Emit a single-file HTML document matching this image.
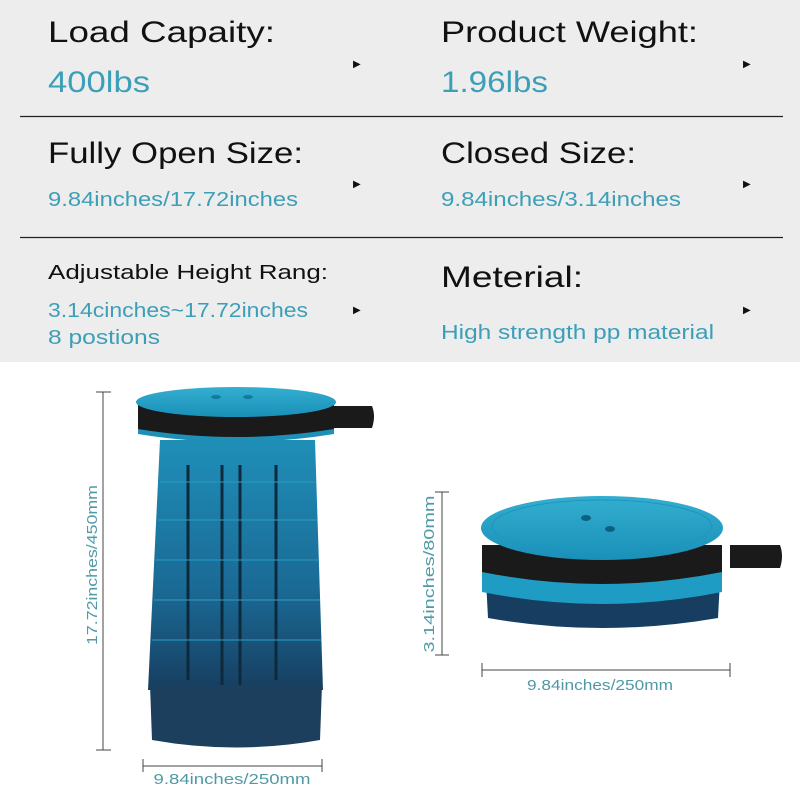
<!DOCTYPE html>
<html><head><meta charset="utf-8"><style>
body{margin:0;width:800px;height:788px;background:#fff;overflow:hidden;font-family:"Liberation Sans",sans-serif}
svg{display:block}
</style></head><body>
<svg width="800" height="788" viewBox="0 0 800 788" xmlns="http://www.w3.org/2000/svg">
<defs>
<linearGradient id="body" x1="0" y1="0" x2="0" y2="1">
<stop offset="0" stop-color="#1f8fb8"/><stop offset="0.6" stop-color="#1a6a95"/><stop offset="1" stop-color="#173e60"/>
</linearGradient>
<linearGradient id="lid" x1="0" y1="0" x2="0" y2="1">
<stop offset="0" stop-color="#33aed0"/><stop offset="1" stop-color="#1a90b8"/>
</linearGradient>
</defs>
<rect x="0" y="0" width="800" height="362" fill="#ededed"/>
<line x1="20" y1="116.5" x2="783" y2="116.5" stroke="#222" stroke-width="1.3"/>
<line x1="20" y1="237.5" x2="783" y2="237.5" stroke="#222" stroke-width="1.3"/>
<g font-family="Liberation Sans, sans-serif" lengthAdjust="spacingAndGlyphs">
<text x="48" y="42" font-size="30" fill="#111" textLength="227" lengthAdjust="spacingAndGlyphs">Load Capaity:</text>
<text x="48" y="92" font-size="30" fill="#3c9fb8" textLength="102" lengthAdjust="spacingAndGlyphs">400lbs</text>
<text x="441" y="42" font-size="30" fill="#111" textLength="257" lengthAdjust="spacingAndGlyphs">Product Weight:</text>
<text x="441" y="92" font-size="30" fill="#3c9fb8" textLength="107" lengthAdjust="spacingAndGlyphs">1.96lbs</text>
<text x="48" y="163" font-size="30" fill="#111" textLength="255" lengthAdjust="spacingAndGlyphs">Fully Open Size:</text>
<text x="48" y="206" font-size="20" fill="#3c9fb8" textLength="250" lengthAdjust="spacingAndGlyphs">9.84inches/17.72inches</text>
<text x="441" y="163" font-size="30" fill="#111" textLength="195" lengthAdjust="spacingAndGlyphs">Closed Size:</text>
<text x="441" y="206" font-size="20" fill="#3c9fb8" textLength="240" lengthAdjust="spacingAndGlyphs">9.84inches/3.14inches</text>
<text x="48" y="279" font-size="20" fill="#111" textLength="280" lengthAdjust="spacingAndGlyphs">Adjustable Height Rang:</text>
<text x="48" y="317" font-size="20" fill="#3c9fb8" textLength="260" lengthAdjust="spacingAndGlyphs">3.14cinches~17.72inches</text>
<text x="48" y="344" font-size="20" fill="#3c9fb8" textLength="112" lengthAdjust="spacingAndGlyphs">8 postions</text>
<text x="441" y="287" font-size="30" fill="#111" textLength="142" lengthAdjust="spacingAndGlyphs">Meterial:</text>
<text x="441" y="339" font-size="20" fill="#3c9fb8" textLength="273" lengthAdjust="spacingAndGlyphs">High strength pp material</text>
<g fill="#111" font-size="10">
<text x="353" y="67">▶</text><text x="743" y="67">▶</text>
<text x="353" y="187">▶</text><text x="743" y="187">▶</text>
<text x="353" y="313">▶</text><text x="743" y="313">▶</text>
</g>
</g>
<!-- tall stool -->
<path d="M160 440 L315 440 L323 690 L148 690 Z" fill="url(#body)"/>
<g stroke="#0d2a3d" stroke-width="3">
<line x1="188" y1="465" x2="188" y2="680"/><line x1="222" y1="465" x2="222" y2="690"/><line x1="240" y1="465" x2="240" y2="690"/><line x1="276" y1="465" x2="276" y2="680"/>
</g>
<g stroke="#2a9bc2" stroke-width="1.5" fill="none" opacity="0.7">
<path d="M160 482 L315 482"/><path d="M158 520 L317 520"/><path d="M156 560 L318 560"/><path d="M154 600 L320 600"/><path d="M152 640 L321 640"/>
</g>
<path d="M150 685 L322 685 L320 740 Q236 755 152 740 Z" fill="#1b3f5c"/>
<path d="M330 406 L372 406 Q376 416 372 428 L330 428 Z" fill="#1a1a1a"/>
<path d="M138 410 L138 434 Q236 450 334 434 L334 410 Z" fill="#1e8fb6"/>
<path d="M138 405 L138 429 Q236 445 334 429 L334 405 Z" fill="#1a1a1a"/>
<ellipse cx="236" cy="402" rx="100" ry="15" fill="url(#lid)"/>
<ellipse cx="216" cy="397" rx="5" ry="2" fill="#137a9f"/><ellipse cx="248" cy="397" rx="5" ry="2" fill="#137a9f"/>
<!-- tall dims -->
<g stroke="#444" stroke-width="1">
<line x1="103" y1="392" x2="103" y2="750"/><line x1="96" y1="392" x2="111" y2="392"/><line x1="96" y1="750" x2="111" y2="750"/>
<line x1="143" y1="766" x2="322" y2="766"/><line x1="143" y1="759" x2="143" y2="772"/><line x1="322" y1="759" x2="322" y2="772"/>
</g>
<text transform="translate(97,565) rotate(-90)" text-anchor="middle" font-size="15" fill="#4f9aa6" textLength="160" lengthAdjust="spacingAndGlyphs">17.72inches/450mm</text>
<text x="232" y="784" text-anchor="middle" font-size="15" fill="#4f9aa6" textLength="157" lengthAdjust="spacingAndGlyphs">9.84inches/250mm</text>
<!-- small stool -->
<path d="M730 545 L780 545 Q784 556 780 568 L730 568 Z" fill="#1a1a1a"/>
<path d="M486 580 L720 580 L718 618 Q602 638 488 618 Z" fill="#173e60"/>
<path d="M482 562 L482 592 Q602 616 722 592 L722 562 Z" fill="#1e9cc4"/>
<path d="M482 545 L482 572 Q602 596 722 572 L722 545 Z" fill="#1a1a1a"/>
<ellipse cx="602" cy="528" rx="121" ry="32" fill="url(#lid)"/>
<ellipse cx="602" cy="526" rx="110" ry="26" fill="none" stroke="#1f95bd" stroke-width="1"/>
<ellipse cx="586" cy="518" rx="5" ry="3" fill="#0f5f80"/><ellipse cx="610" cy="529" rx="5" ry="3" fill="#0f5f80"/>
<g stroke="#444" stroke-width="1">
<line x1="442" y1="492" x2="442" y2="655"/><line x1="435" y1="492" x2="449" y2="492"/><line x1="435" y1="655" x2="449" y2="655"/>
<line x1="482" y1="670" x2="730" y2="670"/><line x1="482" y1="663" x2="482" y2="677"/><line x1="730" y1="663" x2="730" y2="677"/>
</g>
<text transform="translate(434,574) rotate(-90)" text-anchor="middle" font-size="15" fill="#4f9aa6" textLength="157" lengthAdjust="spacingAndGlyphs">3.14inches/80mm</text>
<text x="600" y="690" text-anchor="middle" font-size="15" fill="#4f9aa6" textLength="146" lengthAdjust="spacingAndGlyphs">9.84inches/250mm</text>
</svg>
</body></html>
